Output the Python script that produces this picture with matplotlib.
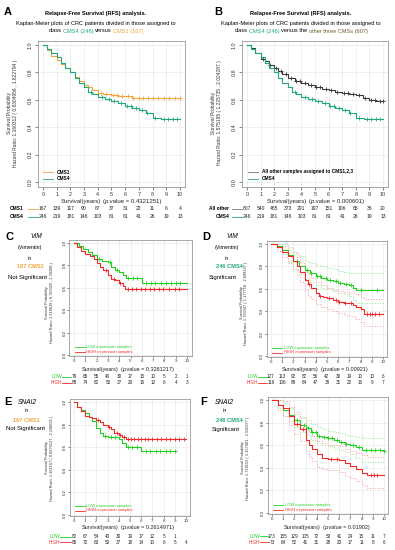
import numpy as np
import matplotlib
matplotlib.use('Agg')
import matplotlib.pyplot as plt
from matplotlib.transforms import blended_transform_factory as btf

plt.rcParams['font.family'] = ['Liberation Sans', 'DejaVu Sans']

# ---------------- data ----------------
years = list(range(11))

# Panel A / B : CMS groups
a_cms1_t = [0, 0.3, 0.6, 1.0, 1.3, 1.6, 2.0, 2.3, 2.6, 3.0, 3.3, 3.6, 4.0, 4.4, 5.0, 5.5, 6.0, 6.5, 10.0]
a_cms1_s = [1.0, 0.96, 0.92, 0.89, 0.86, 0.83, 0.80, 0.77, 0.74, 0.71, 0.69, 0.67, 0.65, 0.64, 0.635, 0.63, 0.625, 0.61, 0.61]
a_cms1_c = [4.2, 4.6, 5.1, 5.4, 5.8, 6.2, 6.6, 7.0, 7.3, 7.7, 8.0, 8.4, 8.8, 9.2, 9.6, 10.0]

cms4_t = [0, 0.3, 0.6, 1.0, 1.3, 1.6, 2.0, 2.3, 2.6, 3.0, 3.3, 3.6, 4.0, 4.5, 5.0, 5.5, 6.0, 6.5, 7.0, 7.5, 8.0, 8.3, 8.6, 10]
cms4_s = [1.0, 0.97, 0.94, 0.91, 0.87, 0.83, 0.80, 0.76, 0.72, 0.69, 0.66, 0.64, 0.62, 0.605, 0.59, 0.575, 0.555, 0.54, 0.525, 0.50, 0.47, 0.465, 0.46, 0.46]
cms4_c = [3.5, 4.3, 4.8, 5.2, 5.7, 6.1, 6.4, 6.8, 7.2, 7.6, 8.2, 8.8, 9.1, 9.5, 9.8]

b_other_t = [0, 0.3, 0.6, 1, 1.3, 1.6, 2, 2.3, 2.6, 3, 3.5, 4, 4.5, 5, 5.5, 6, 6.5, 7, 7.5, 8, 8.5, 9, 9.5, 10]
b_other_s = [1, 0.975, 0.94, 0.90, 0.88, 0.855, 0.83, 0.81, 0.785, 0.76, 0.74, 0.72, 0.705, 0.69, 0.68, 0.67, 0.66, 0.65, 0.64, 0.635, 0.615, 0.60, 0.59, 0.59]
b_other_c = [1.2, 1.7, 2.1, 2.5, 2.9, 3.2, 3.6, 3.9, 4.3, 4.7, 5.1, 5.4, 5.8, 6.2, 6.6, 7.1, 7.4, 7.8, 8.2, 8.7, 9.1, 9.4, 9.8, 10.0]

# Panel C : VIM in CMS1
c_low_t = [0, 0.4, 0.8, 1.2, 1.6, 2.0, 2.5, 3.0, 3.3, 3.6, 4.0, 4.3, 4.6, 6.0, 10]
c_low_s = [1, 0.97, 0.95, 0.92, 0.89, 0.86, 0.84, 0.83, 0.79, 0.76, 0.74, 0.71, 0.69, 0.645, 0.645]
c_low_c = [2.2, 3.2, 3.8, 4.8, 5.2, 5.6, 6.4, 6.8, 7.2, 7.7, 8.1, 8.6, 9.0, 9.4]
c_high_t = [0, 0.3, 0.6, 1.0, 1.4, 1.8, 2.0, 2.3, 2.6, 3.0, 3.3, 3.6, 4.0, 4.3, 4.5, 10]
c_high_s = [1, 0.96, 0.93, 0.90, 0.88, 0.86, 0.82, 0.79, 0.76, 0.71, 0.68, 0.67, 0.645, 0.62, 0.59, 0.59]
c_high_c = [2.8, 3.5, 4.1, 4.8, 5.1, 5.5, 5.9, 6.3, 6.7, 7.1, 7.5, 7.9, 8.4, 8.9, 9.3]

# Panel D : VIM in CMS4
d_low_t = [0, 0.5, 1.0, 1.5, 2.0, 2.5, 3.0, 3.5, 4.0, 4.5, 5.0, 5.5, 6.0, 6.5, 7.0, 7.3, 7.6, 10]
d_low_s = [1, 0.98, 0.95, 0.90, 0.85, 0.80, 0.765, 0.74, 0.71, 0.695, 0.68, 0.67, 0.655, 0.64, 0.63, 0.61, 0.59, 0.59]
d_low_c = [2.3, 3.2, 3.6, 4.1, 4.4, 4.9, 5.3, 5.8, 6.2, 6.7, 7.1, 8.0, 9.5]
d_low_up_t = [0, 1, 1.5, 2, 2.5, 3, 3.5, 4, 4.5, 5, 5.5, 6, 6.5, 7, 10]
d_low_up_s = [1, 1, 0.97, 0.93, 0.89, 0.85, 0.83, 0.81, 0.80, 0.79, 0.78, 0.76, 0.75, 0.74, 0.74]
d_low_lo_t = [0, 1, 1.5, 2, 2.5, 3, 3.5, 4, 4.5, 5, 5.5, 6, 6.5, 7, 7.3, 7.6, 10]
d_low_lo_s = [1, 0.91, 0.84, 0.78, 0.73, 0.69, 0.66, 0.63, 0.61, 0.60, 0.58, 0.56, 0.55, 0.54, 0.50, 0.47, 0.47]
d_high_t = [0, 0.5, 1.0, 1.5, 2.0, 2.3, 2.6, 3.0, 3.3, 3.6, 4.0, 4.3, 4.6, 5.0, 5.5, 6.0, 6.5, 7.0, 7.3, 7.6, 8.0, 8.3, 10]
d_high_s = [1, 0.97, 0.93, 0.89, 0.85, 0.80, 0.75, 0.68, 0.64, 0.61, 0.56, 0.54, 0.53, 0.515, 0.50, 0.48, 0.475, 0.47, 0.455, 0.44, 0.42, 0.375, 0.375]
d_high_c = [3.4, 4.4, 5.2, 5.8, 6.1, 6.6, 7.1, 8.6, 8.8, 9.0, 9.3, 9.6]
d_high_ci_t = [0, 0.5, 1, 1.5, 2, 2.3, 2.6, 3, 3.3, 3.6, 4, 4.5, 5, 5.5, 6, 6.5, 7, 7.5, 8, 8.3, 10]
d_high_up_s = [1, 1, 0.98, 0.95, 0.92, 0.88, 0.83, 0.77, 0.73, 0.70, 0.66, 0.63, 0.61, 0.59, 0.58, 0.57, 0.56, 0.55, 0.53, 0.51, 0.51]
d_high_lo_s = [1, 0.94, 0.88, 0.83, 0.78, 0.72, 0.66, 0.59, 0.54, 0.51, 0.46, 0.44, 0.42, 0.40, 0.38, 0.37, 0.36, 0.33, 0.30, 0.27, 0.27]

# Panel E : SNAI2 in CMS1
e_low_t = [0, 0.3, 0.6, 1.0, 1.3, 1.6, 2.0, 2.3, 2.6, 3.0, 4.0, 4.3, 4.6, 6.0, 9.1]
e_low_s = [1, 0.96, 0.93, 0.90, 0.87, 0.83, 0.77, 0.73, 0.70, 0.69, 0.675, 0.64, 0.605, 0.565, 0.565]
e_low_c = [2.8, 3.3, 3.7, 4.8, 5.2, 5.6, 6.4, 6.8, 7.3, 7.7, 8.2, 8.6, 9.0]
e_high_t = [0, 0.3, 0.6, 1.0, 1.3, 1.6, 2.0, 2.3, 2.6, 3.0, 3.3, 3.6, 4.0, 4.3, 4.6, 10]
e_high_s = [1, 0.96, 0.92, 0.88, 0.87, 0.86, 0.84, 0.82, 0.80, 0.78, 0.76, 0.73, 0.71, 0.69, 0.675, 0.675]
e_high_c = [2.1, 3.1, 3.8, 4.1, 4.5, 4.8, 5.1, 5.4, 5.7, 6.0, 6.3, 6.6, 7.0, 7.4, 7.8, 8.2, 8.6, 9.0, 9.4, 9.8]

# Panel F : SNAI2 in CMS4
f_low_t = [0, 0.5, 1, 1.5, 2, 2.5, 3, 3.5, 4, 4.5, 5, 5.5, 6, 6.5, 7, 7.5, 8, 10]
f_low_s = [1, 0.96, 0.91, 0.87, 0.82, 0.78, 0.75, 0.72, 0.685, 0.67, 0.66, 0.645, 0.63, 0.615, 0.60, 0.58, 0.555, 0.55]
f_low_up_s = [1, 1, 0.97, 0.93, 0.89, 0.85, 0.82, 0.79, 0.76, 0.74, 0.73, 0.72, 0.705, 0.69, 0.68, 0.67, 0.665, 0.665]
f_low_lo_s = [1, 0.93, 0.86, 0.81, 0.76, 0.72, 0.69, 0.65, 0.62, 0.60, 0.59, 0.57, 0.555, 0.54, 0.52, 0.49, 0.45, 0.45]
f_low_c = [2.2, 2.9, 3.2, 3.6, 3.9, 4.2, 4.6, 5.0, 5.4, 5.8, 6.2, 6.6, 7.2, 7.8, 8.4, 8.8, 9.2, 9.6, 10]
f_high_t = [0, 0.5, 1, 1.5, 2, 2.5, 3, 3.3, 3.6, 4, 4.5, 5, 6, 6.5, 7, 7.5, 8, 8.5, 10]
f_high_s = [1, 0.96, 0.925, 0.86, 0.79, 0.74, 0.65, 0.60, 0.57, 0.52, 0.49, 0.48, 0.47, 0.44, 0.42, 0.39, 0.35, 0.335, 0.335]
f_high_up_s = [1, 1, 0.99, 0.94, 0.88, 0.84, 0.76, 0.72, 0.68, 0.64, 0.62, 0.60, 0.59, 0.57, 0.55, 0.53, 0.51, 0.50, 0.50]
f_high_lo_s = [1, 0.91, 0.86, 0.78, 0.70, 0.64, 0.55, 0.50, 0.46, 0.41, 0.39, 0.38, 0.36, 0.33, 0.31, 0.28, 0.25, 0.22, 0.22]
f_high_c = [2.2, 2.8, 5.3, 5.8, 8.8, 9.1, 9.4]

# risk tables
risk_a_cms1 = [167, 139, 117, 90, 67, 37, 31, 22, 11, 6, 4]
risk_cms4 = [246, 219, 181, 146, 103, 81, 61, 41, 26, 19, 13]
risk_b_other = [607, 540, 465, 373, 291, 197, 151, 106, 65, 36, 20]
risk_c_low = [79, 65, 55, 40, 30, 17, 15, 10, 5, 2, 1]
risk_c_high = [88, 74, 62, 50, 37, 20, 16, 12, 6, 4, 3]
risk_d_low = [127, 113, 92, 82, 56, 42, 30, 19, 10, 10, 6]
risk_d_high = [119, 106, 89, 64, 47, 39, 31, 22, 16, 9, 7]
risk_e_low = [82, 67, 54, 40, 30, 19, 17, 12, 5, 1]
risk_e_high = [85, 72, 63, 50, 37, 18, 14, 10, 6, 5, 4]
risk_f_low = [173, 155, 129, 105, 72, 53, 41, 24, 15, 11, 7]
risk_f_high = [73, 64, 52, 41, 31, 28, 20, 17, 11, 8, 6]

pvals = {'A': '0.4321251', 'B': '0.000601', 'C': '0.3261217', 'D': '0.00921', 'E': '0.2614971', 'F': '0.01902'}
hazard = {'A': '1.160312 ( 0.8304956 , 1.622794 )',
          'B': '1.575195 ( 1.225735 , 2.024287 )',
          'C': '1.318639 ( 0.760329 , 2.28368 )',
          'D': '1.783047 ( 1.177718 , 2.699137 )',
          'E': '1.361167 ( 0.8276127 , 2.238665 )',
          'F': '1.718152 ( 1.157481 , 2.550377 )'}

# ---------------- styling ----------------
C_CMS1 = '#F2A43A'
C_CMS4 = '#1FA97C'
C_OTHER = '#3a3a3a'
C_OTHER_TXT = '#6e5f2c'
C_LOW = '#22d022'
C_HIGH = '#ee2a2a'
C_LOW_CI = '#8fe88f'
C_HIGH_CI = '#ff9a9a'

W, H = 395, 550
fig = plt.figure(figsize=(W / 100, H / 100), dpi=100)
R = fig.canvas.get_renderer()


def fx(x):
    return x / W


def fy(y):
    return 1 - y / H


def T(x, y, s, size, **kw):
    kw.setdefault('ha', 'center')
    kw.setdefault('va', 'center')
    return fig.text(fx(x), fy(y), s, fontsize=size, **kw)


def rich(x, y, parts, size, ha='center'):
    gap = 0.278 * size * 100 / 72
    items = []
    for s, st in parts:
        lead = s.startswith(' ')
        t = fig.text(0, 0, s.strip(), fontsize=size, va='center', ha='left', **st)
        w = t.get_window_extent(renderer=R).width
        items.append((t, w, lead))
    total = sum(w + (gap if lead else 0) for _, w, lead in items)
    cur = x - total / 2 if ha == 'center' else x
    for t, w, lead in items:
        if lead:
            cur += gap
        t.set_position((fx(cur), fy(y)))
        cur += w


def make_ax(x0, x10, y1, y0, tsize, bot=0.036, tick_len=2.0, pad=1.5):
    sx = (x10 - x0) / 10.0
    sy = (y0 - y1)
    left = x0 - 0.4 * sx
    right = x10 + 0.4 * sx
    top = y1 - 0.03 * sy
    bottom = y0 + bot * sy
    ax = fig.add_axes([fx(left), fy(bottom), (right - left) / W, (bottom - top) / H])
    ax.set_xlim(-0.4, 10.4)
    ax.set_ylim(-bot, 1.03)
    ax.set_xticks(years)
    ax.set_yticks([0, 0.2, 0.4, 0.6, 0.8, 1.0])
    ax.set_yticklabels(['0.0', '0.2', '0.4', '0.6', '0.8', '1.0'])
    ax.grid(True, color='#e9e9e9', lw=0.5)
    ax.set_axisbelow(True)
    for sp in ax.spines.values():
        sp.set_color('#9a9a9a')
        sp.set_linewidth(0.6)
    ax.tick_params(length=tick_len, width=0.5, color='#555555', labelsize=tsize, pad=pad,
                   labelcolor='#333333')
    for lbl in ax.get_yticklabels():
        lbl.set_rotation(90)
        lbl.set_va('center')
    return ax


def step_value(times, surv, pts):
    idx = np.searchsorted(times, pts, side='right') - 1
    return np.asarray(surv)[idx]


def km(ax, times, surv, color, censor=None, lw=0.8, ls='-', ms=2.6):
    ax.step(times, surv, where='post', color=color, lw=lw, ls=ls)
    if censor is not None:
        ax.plot(censor, step_value(times, surv, censor), '+', color=color, ms=ms, mew=0.6, ls='none')


def risk_row(ax, y, vals, size):
    tr = btf(ax.transData, fig.transFigure)
    for xv, v in zip(years, vals):
        ax.text(xv, fy(y), str(v), transform=tr, fontsize=size, ha='center', va='center',
                color='#222222')


def legend_line(x1, x2, y, color, ls='-'):
    fig.add_artist(plt.Line2D([fx(x1), fx(x2)], [fy(y), fy(y)], color=color, lw=0.6, ls=ls,
                              transform=fig.transFigure))


def ylabel_pair(x1, x2, y, key, size):
    T(x1, y, 'Survival Probability', size, rotation=90, color='#333333')
    T(x2, y, 'Hazard Ratio: ' + hazard[key], size, rotation=90, color='#333333')


def xlabel(xc, y, key, size):
    rich(xc, y, [('Survival(years)', {'color': '#222222'}),
                 (' (', {'color': '#222222'}),
                 ('p', {'color': '#222222', 'style': 'italic'}),
                 ('.value = ' + pvals[key] + ')', {'color': '#222222'})], size)


def small_ax(x0, x10, y1, y0):
    return make_ax(x0, x10, y1, y0, 3.2, bot=0.012, tick_len=1.3, pad=0.6)


# ---------------- Panel A ----------------
axA = make_ax(43, 180, 45, 182, 3.9)
km(axA, a_cms1_t, a_cms1_s, C_CMS1, a_cms1_c)
km(axA, cms4_t, cms4_s, C_CMS4, cms4_c)
T(8, 12, 'A', 8, weight='bold')
T(96, 13, 'Relapse-Free Survival (RFS) analysis.', 4.1, weight='bold')
T(96, 23, 'Kaplan-Meier plots of CRC patients divided in those assigned to', 4.1)
rich(96, 31, [('class', {}), (' CMS4 (246)', {'color': C_CMS4}), (' versus', {}),
              (' CMS1 (167)', {'color': C_CMS1})], 4.1)
ylabel_pair(10, 16, 113, 'A', 3.5)
legend_line(43, 53, 172, C_CMS1)
legend_line(43, 53, 179, C_CMS4)
T(57, 172, 'CMS1', 3.4, weight='bold', ha='left')
T(57, 179, 'CMS4', 3.4, weight='bold', ha='left')
xlabel(111, 201, 'A', 4.3)
T(23, 209, 'CMS1', 3.5, weight='bold', ha='right')
T(23, 217, 'CMS4', 3.5, weight='bold', ha='right')
legend_line(28, 38, 209, C_CMS1)
legend_line(28, 38, 217, C_CMS4)
risk_row(axA, 209, risk_a_cms1, 3.6)
risk_row(axA, 217, risk_cms4, 3.6)

# ---------------- Panel B ----------------
axB = make_ax(247, 383, 45, 182, 3.9)
km(axB, b_other_t, b_other_s, C_OTHER, b_other_c)
km(axB, cms4_t, cms4_s, C_CMS4, cms4_c)
T(218, 12, 'B', 8, weight='bold')
T(301, 13, 'Relapse-Free Survival (RFS) analysis.', 4.1, weight='bold')
T(301, 23, 'Kaplan-Meier plots of CRC patients divided in those assigned to', 4.1)
rich(301, 31, [('class', {}), (' CMS4 (246)', {'color': C_CMS4}), (' versus the', {}),
               (' other three CMSs (607)', {'color': C_OTHER_TXT})], 4.1)
ylabel_pair(214, 220, 113, 'B', 3.5)
legend_line(248, 258, 172, '#777777')
legend_line(248, 258, 179, C_CMS4)
T(262, 172, 'All other samples assigned to CMS1,2,3', 3.4, weight='bold', ha='left')
T(262, 179, 'CMS4', 3.4, weight='bold', ha='left')
xlabel(315, 201, 'B', 4.3)
T(229, 209, 'All other', 3.5, weight='bold', ha='right')
T(229, 217, 'CMS4', 3.5, weight='bold', ha='right')
legend_line(232, 242, 209, '#777777')
legend_line(232, 242, 217, C_CMS4)
risk_row(axB, 209, risk_b_other, 3.6)
risk_row(axB, 217, risk_cms4, 3.6)

# ---------------- Panel C ----------------
axC = small_ax(74, 187, 243, 355)
km(axC, c_low_t, c_low_s, C_LOW, c_low_c)
km(axC, c_high_t, c_high_s, C_HIGH, c_high_c)
T(10, 237, 'C', 8, weight='bold')
T(36, 237, 'VIM', 4.8, style='italic')
T(30, 248, '(Vimentin)', 3.8)
T(30, 258, 'in', 3.8)
T(30, 266, '167 CMS1', 4.1, weight='bold', color=C_CMS1)
T(27, 277, 'Not Significant', 4.3)
ylabel_pair(47, 51.5, 303, 'C', 2.8)
legend_line(75, 85, 347, C_LOW)
legend_line(75, 85, 352, C_HIGH)
T(86, 347, 'LOW expression samples', 2.9, ha='left', color=C_LOW)
T(86, 352, 'HIGH expression samples', 2.9, ha='left', color=C_HIGH)
xlabel(128, 369, 'C', 4.0)
T(62, 377, 'LOW', 3.3, ha='right', color=C_LOW)
T(62, 382.5, 'HIGH', 3.3, ha='right', color=C_HIGH)
legend_line(62, 71, 377, C_LOW)
legend_line(62, 71, 382.5, C_HIGH)
risk_row(axC, 377, risk_c_low, 3.3)
risk_row(axC, 382.5, risk_c_high, 3.3)

# ---------------- Panel D ----------------
axD = small_ax(271, 383, 244, 356)
km(axD, d_low_up_t, d_low_up_s, C_LOW_CI, ls=':', lw=0.7)
km(axD, d_low_lo_t, d_low_lo_s, C_LOW_CI, ls=':', lw=0.7)
km(axD, d_high_ci_t, d_high_up_s, C_HIGH_CI, ls=':', lw=0.7)
km(axD, d_high_ci_t, d_high_lo_s, C_HIGH_CI, ls=':', lw=0.7)
km(axD, d_low_t, d_low_s, C_LOW, d_low_c)
km(axD, d_high_t, d_high_s, C_HIGH, d_high_c)
T(206, 237, 'D', 8, weight='bold')
T(232, 237, 'VIM', 4.8, style='italic')
T(227, 248, '(Vimentin)', 3.8)
T(227, 258, 'in', 3.8)
T(229, 266, '246 CMS4', 4.1, weight='bold', color=C_CMS4)
T(223, 277, 'Significant', 4.3)
ylabel_pair(242, 246.5, 303, 'D', 2.8)
legend_line(272, 282, 348, C_LOW)
legend_line(272, 282, 352.5, C_HIGH)
T(284, 348, 'LOW expression samples', 2.9, ha='left', color=C_LOW)
T(284, 352.5, 'HIGH expression samples', 2.9, ha='left', color=C_HIGH)
xlabel(325, 370, 'D', 4.0)
T(258, 377, 'LOW', 3.3, ha='right', color=C_LOW)
T(258, 383, 'HIGH', 3.3, ha='right', color=C_HIGH)
legend_line(258, 267, 377, C_LOW)
legend_line(258, 267, 383, C_HIGH)
risk_row(axD, 377, risk_d_low, 3.3)
risk_row(axD, 383, risk_d_high, 3.3)

# ---------------- Panel E ----------------
axE = small_ax(74, 186, 402, 515)
km(axE, e_low_t, e_low_s, C_LOW, e_low_c)
km(axE, e_high_t, e_high_s, C_HIGH, e_high_c)
T(8, 402, 'E', 8, weight='bold')
T(27, 402, 'SNAI2', 4.8, style='italic')
T(27, 411, 'in', 3.8)
T(26, 420, '167 CMS1', 4.1, weight='bold', color=C_CMS1)
T(25, 428.5, 'Not Significant', 4.3)
ylabel_pair(47, 51.5, 458, 'E', 2.8)
legend_line(75, 85, 506, C_LOW)
legend_line(75, 85, 510.5, C_HIGH)
T(86, 506, 'LOW expression samples', 2.9, ha='left', color=C_LOW)
T(86, 510.5, 'HIGH expression samples', 2.9, ha='left', color=C_HIGH)
xlabel(128, 528, 'E', 4.0)
T(60, 537, 'LOW', 3.3, ha='right', color=C_LOW)
T(60, 542, 'HIGH', 3.3, ha='right', color=C_HIGH)
legend_line(60, 71, 537, C_LOW)
legend_line(60, 71, 542, C_HIGH)
risk_row(axE, 537, risk_e_low, 3.3)
risk_row(axE, 542, risk_e_high, 3.3)

# ---------------- Panel F ----------------
axF = small_ax(272, 384, 400, 513)
km(axF, f_low_t, f_low_up_s, C_LOW_CI, ls=':', lw=0.7)
km(axF, f_low_t, f_low_lo_s, C_LOW_CI, ls=':', lw=0.7)
km(axF, f_high_t, f_high_up_s, C_HIGH_CI, ls=':', lw=0.7)
km(axF, f_high_t, f_high_lo_s, C_HIGH_CI, ls=':', lw=0.7)
km(axF, f_low_t, f_low_s, C_LOW, f_low_c)
km(axF, f_high_t, f_high_s, C_HIGH, f_high_c)
T(204, 402, 'F', 8, weight='bold')
T(224, 402, 'SNAI2', 4.8, style='italic')
T(225, 410, 'in', 3.8)
T(229, 420, '246 CMS4', 4.1, weight='bold', color=C_CMS4)
T(226, 429, 'Significant', 4.3)
ylabel_pair(243, 247.5, 458, 'F', 2.8)
legend_line(273, 283, 505, C_LOW)
legend_line(273, 283, 509.5, C_HIGH)
T(285, 505, 'LOW expression samples', 2.9, ha='left', color=C_LOW)
T(285, 509.5, 'HIGH expression samples', 2.9, ha='left', color=C_HIGH)
xlabel(327, 528, 'F', 4.0)
T(260, 536, 'LOW', 3.3, ha='right', color=C_LOW)
T(260, 542, 'HIGH', 3.3, ha='right', color=C_HIGH)
legend_line(260, 269, 536, C_LOW)
legend_line(260, 269, 542, C_HIGH)
risk_row(axF, 536, risk_f_low, 3.3)
risk_row(axF, 542, risk_f_high, 3.3)

fig.savefig('out.png', dpi=100)
